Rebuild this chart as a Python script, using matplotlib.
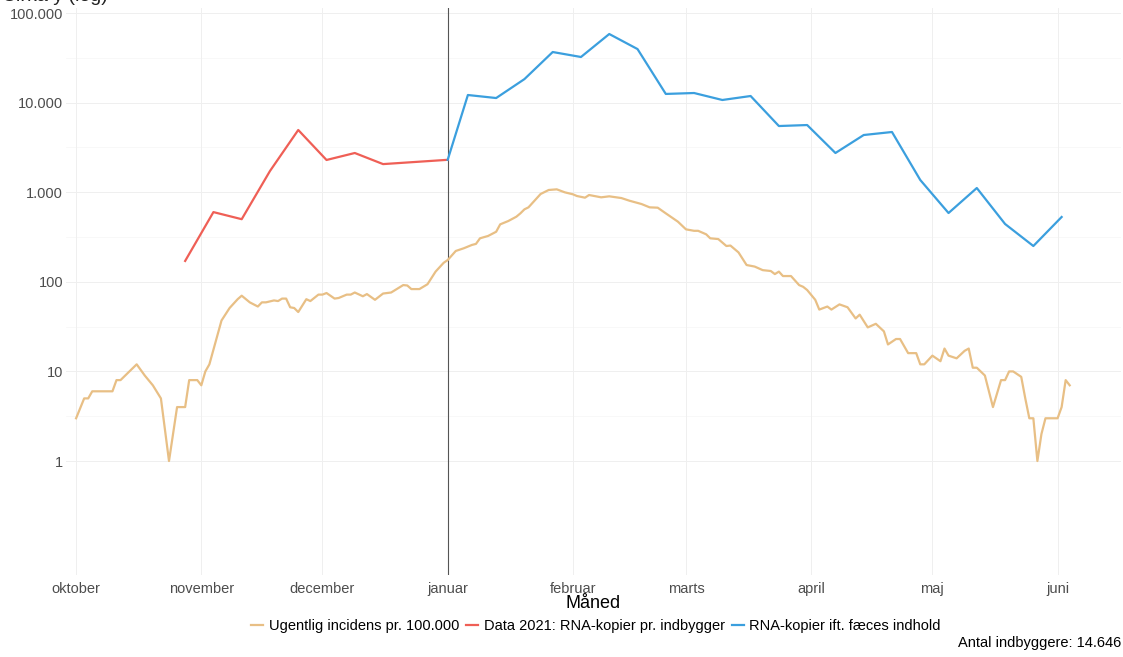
import pandas as pd
import numpy as np
import matplotlib.pyplot as plt
import matplotlib.dates as mdates

plt.rcParams['font.family'] = ['Liberation Sans', 'DejaVu Sans']

start = pd.Timestamp('2020-10-01')

# Ugentlig incidens pr. 100.000 (dage efter 1. oktober, vaerdi)
inc_day = [0, 2, 3, 4, 9, 10, 11, 15, 17, 19, 21, 23, 25, 27, 28, 30, 31, 32, 33, 36,
           38, 40, 41, 43, 45, 46, 47, 49, 50, 51, 52, 53, 54, 55, 57, 58, 60, 61, 62, 64,
           65, 67, 68, 69, 71, 72, 74, 76, 78, 79, 81, 82, 83, 85, 87, 89, 91, 92, 94, 96,
           98, 99, 100, 102, 104, 105, 107, 109, 110, 111, 112, 115, 117, 119, 121, 123, 124, 126, 127, 130,
           132, 135, 137, 140, 142, 144, 146, 149, 151, 153, 154, 156, 157, 159, 161, 162, 164, 166, 168, 170,
           172, 173, 174, 175, 177, 179, 180, 181, 183, 184, 186, 187, 189, 191, 193, 194, 196, 198, 200, 201,
           203, 204, 206, 207, 208, 209, 210, 212, 214, 215, 216, 218, 220, 221, 222, 223, 225, 227, 229, 230,
           231, 232, 234, 235, 236, 237, 238, 239, 240, 243, 244, 245, 246]
inc_val = [3, 5, 5, 6, 6, 8, 8, 12, 9, 7, 5, 1, 4, 4, 8, 8, 7, 10, 12, 37,
           51, 64, 70, 59, 53, 59, 59, 62, 61, 65, 65, 52, 51, 46, 64, 61, 72, 72, 75, 65,
           66, 72, 72, 76, 69, 73, 63, 74, 76, 81, 92, 91, 83, 83, 94, 130, 163, 175, 221, 237,
           258, 265, 306, 325, 362, 438, 477, 533, 581, 644, 678, 955, 1059, 1077, 997, 948, 907, 869, 931, 877,
           900, 861, 804, 738, 678, 672, 581, 469, 385, 371, 371, 339, 306, 300, 251, 254, 213, 154, 148, 135,
           132, 122, 130, 116, 116, 92, 88, 81, 63, 49, 53, 49, 56, 52, 39, 43, 31, 34, 28, 20,
           23, 23, 16, 16, 16, 12, 12, 15, 13, 18, 15, 14, 17, 18, 11, 11, 9, 4, 8, 8,
           10, 10, 8.7, 5, 3, 3, 1, 2, 3, 3, 4, 8, 7]

# Data 2021: RNA-kopier pr. indbygger
red_dates = ['2020-10-28', '2020-11-04', '2020-11-11', '2020-11-18', '2020-11-25',
             '2020-12-02', '2020-12-09', '2020-12-16', '2021-01-01']
red_val = [171, 600, 500, 1725, 4950, 2290, 2740, 2060, 2300]

# RNA-kopier ift. faeces indhold
blue_dates = ['2021-01-01', '2021-01-06', '2021-01-13', '2021-01-20', '2021-01-27', '2021-02-03',
              '2021-02-10', '2021-02-17', '2021-02-24', '2021-03-03', '2021-03-10', '2021-03-17',
              '2021-03-24', '2021-03-31', '2021-04-07', '2021-04-14', '2021-04-21', '2021-04-28',
              '2021-05-05', '2021-05-12', '2021-05-19', '2021-05-26', '2021-06-02']
blue_val = [2300, 12160, 11250, 18300, 36700, 32300, 58300, 39600, 12500, 12800, 10700, 11850,
            5480, 5620, 2740, 4350, 4700, 1370, 586, 1114, 442, 251, 529]

month_starts = ['2020-10-01', '2020-11-01', '2020-12-01', '2021-01-01', '2021-02-01',
                '2021-03-01', '2021-04-01', '2021-05-01', '2021-06-01']
month_labels = ['oktober', 'november', 'december', 'januar', 'februar', 'marts', 'april', 'maj', 'juni']

y_breaks = [1, 10, 100, 1000, 10000, 100000]
y_labels = ['1', '10', '100', '1.000', '10.000', '100.000']

inc_x = start + pd.to_timedelta(inc_day, unit='D')
red_x = pd.to_datetime(red_dates)
blue_x = pd.to_datetime(blue_dates)
month_x = pd.to_datetime(month_starts)

W, H = 1123, 657
fig = plt.figure(figsize=(W / 100, H / 100), dpi=100)
ax = fig.add_axes([66 / W, (H - 575) / H, (1121 - 66) / W, (575 - 8) / H])

ax.set_yscale('log')
ax.set_ylim(10 ** -1.272, 10 ** 5.056)
ax.set_xlim(start + pd.Timedelta(days=-2.5), start + pd.Timedelta(days=258.7))

# grid like theme_minimal
for b in y_breaks:
    ax.axhline(b, color='#EFEFEF', lw=0.7, zorder=0)
for b in y_breaks[:-1]:
    ax.axhline(b * np.sqrt(10), color='#F5F5F5', lw=0.5, zorder=0)
for m in month_x:
    ax.axvline(m, color='#EFEFEF', lw=0.7, zorder=0)

ax.axvline(pd.Timestamp('2021-01-01'), color='#555555', lw=0.8, zorder=1)

l1, = ax.plot(inc_x, inc_val, color='#E8BF85', lw=1.6, label='Ugentlig incidens pr. 100.000', zorder=2)
l2, = ax.plot(red_x, red_val, color='#EF5F56', lw=1.6, label='Data 2021: RNA-kopier pr. indbygger', zorder=3)
l3, = ax.plot(blue_x, blue_val, color='#3B9FDE', lw=1.6, label='RNA-kopier ift. fæces indhold', zorder=3)

ax.set_yticks(y_breaks)
ax.set_yticklabels(y_labels)
ax.yaxis.set_minor_locator(plt.NullLocator())
ax.set_xticks(month_x)
ax.set_xticklabels(month_labels)
ax.tick_params(axis='both', length=0, labelsize=10.5, labelcolor='#4D4D4D')
ax.tick_params(axis='x', pad=5)
ax.tick_params(axis='y', pad=2)
for s in ax.spines.values():
    s.set_visible(False)

fig.text(593 / W, 1 - 604 / H, 'Måned', ha='center', va='center', fontsize=13, color='black')

fig.legend(handles=[l1, l2, l3], loc='center', bbox_to_anchor=(596 / W, 1 - 626 / H), ncol=3,
           frameon=False, fontsize=10.5, handlelength=0.8, handletextpad=0.4, columnspacing=0.5,
           borderaxespad=0)

fig.text(1121 / W, 1 - 643 / H, 'Antal indbyggere: 14.646', ha='right', va='center', fontsize=10.5, color='black')

# title sits partly above the top edge, as in the reference
fig.text(2 / W, 1 - 5 / H, 'Cirka y (log)', ha='left', va='bottom', fontsize=14, color='#222222')

fig.savefig('out.png', dpi=100, facecolor='white')
